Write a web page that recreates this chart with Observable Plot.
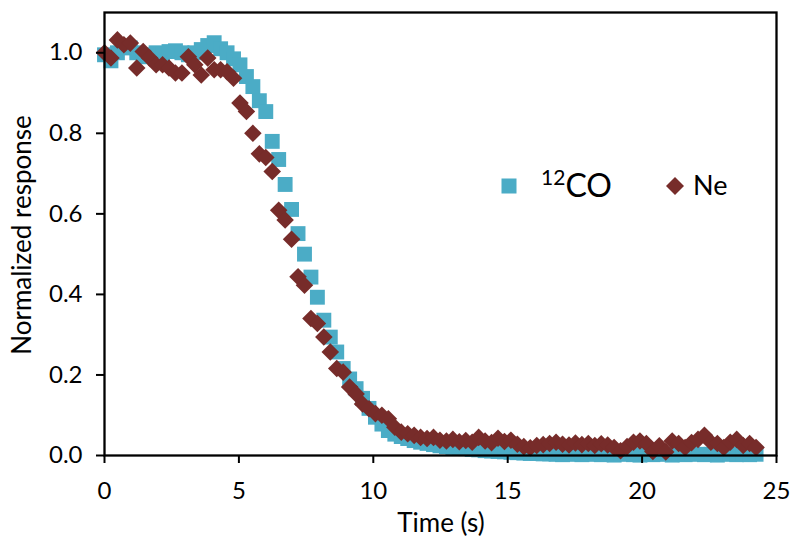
<!DOCTYPE html>
<html><head><meta charset="utf-8">
<script src="https://cdn.jsdelivr.net/npm/d3@7"></script>
<script src="https://cdn.jsdelivr.net/npm/@observablehq/plot@0.6"></script>
<style>
body{margin:0;background:#fff;}
#wrap{position:relative;width:790px;height:538px;}
</style></head><body><div id="wrap"></div>
<script>
const time = [0,0.24,0.48,0.72,0.96,1.2,1.44,1.68,1.92,2.16,
2.4,2.64,2.88,3.12,3.36,3.6,3.84,4.08,4.32,4.56,
4.8,5.04,5.28,5.52,5.76,6,6.24,6.48,6.72,6.96,
7.2,7.44,7.68,7.92,8.16,8.4,8.64,8.88,9.12,9.36,
9.6,9.84,10.08,10.32,10.56,10.8,11.04,11.28,11.52,11.76,
12,12.24,12.48,12.72,12.96,13.2,13.44,13.68,13.92,14.16,
14.4,14.64,14.88,15.12,15.36,15.6,15.84,16.08,16.32,16.56,
16.8,17.04,17.28,17.52,17.76,18,18.24,18.48,18.72,18.96,
19.2,19.44,19.68,19.92,20.16,20.4,20.64,20.88,21.12,21.36,
21.6,21.84,22.08,22.32,22.56,22.8,23.04,23.28,23.52,23.76,
24,24.24];
const co = [0.995,0.98,1.0,1.015,1.012,1.0,0.99,0.995,1.0,0.998,
1.003,1.005,1.0,0.995,1.0,1.008,1.018,1.025,1.01,1.0,
0.985,0.97,0.941,0.916,0.881,0.854,0.78,0.735,0.673,0.611,
0.551,0.5,0.443,0.393,0.336,0.294,0.257,0.216,0.19,0.166,
0.142,0.117,0.095,0.078,0.062,0.053,0.047,0.042,0.037,0.033,
0.03,0.027,0.024,0.022,0.02,0.018,0.017,0.015,0.014,0.012,
0.011,0.01,0.009,0.008,0.007,0.006,0.005,0.005,0.004,0.004,
0.003,0.002,0.004,0.003,0.002,0.003,0.004,0.002,0.003,0.001,
0.003,0.004,0.002,0.001,0.003,0.002,0.004,0.003,0.001,0.003,
0.002,0.004,0.003,0.002,0.003,0.001,0.004,0.003,0.002,0.003,
0.002,0.003];
const ne = [1.0,0.987,1.032,1.02,1.024,0.962,1.003,0.987,0.97,0.97,
0.962,0.95,0.95,0.99,0.97,0.945,0.987,0.958,0.958,0.953,
0.937,0.875,0.854,0.8,0.749,0.74,0.705,0.609,0.585,0.537,
0.444,0.423,0.34,0.328,0.294,0.257,0.216,0.207,0.17,0.153,
0.128,0.116,0.104,0.1,0.091,0.07,0.058,0.054,0.05,0.045,
0.042,0.045,0.038,0.036,0.04,0.034,0.037,0.033,0.045,0.036,
0.032,0.043,0.035,0.038,0.028,0.022,0.019,0.025,0.027,0.03,
0.033,0.028,0.026,0.031,0.027,0.03,0.025,0.029,0.026,0.02,
0.012,0.022,0.033,0.036,0.03,0.01,0.024,0.009,0.036,0.03,
0.02,0.032,0.04,0.05,0.033,0.03,0.02,0.033,0.04,0.025,
0.03,0.02];
const xTicks = [0,5,10,15,20,25];
const yTicks = [0,0.2,0.4,0.6,0.8,1.0];
const seriesNames = ["CO","Ne"];
const colors = ["#4BACC6","#772C2A"];
const xLabel = "Time (s)";
const yLabel = "Normalized response";

const coData = time.slice(0, co.length).map((t,i)=>({t, v: co[i]}));
const neData = time.slice(0, ne.length).map((t,i)=>({t, v: ne[i]}));

const FONT = "Lato, 'Open Sans', sans-serif";

const chart = Plot.plot({
  width: 790, height: 538,
  marginLeft: 104, marginRight: 14, marginTop: 12, marginBottom: 83,
  style: {fontFamily: FONT, fontSize: "24px", color: "#000", background: "#fff", overflow: "visible"},
  x: {domain: [0, 25]},
  y: {domain: [0, 1.1]},
  marks: [
    Plot.dot(coData, {x: "t", y: "v", symbol: "square", r: 8.4, fill: colors[0], stroke: "none"}),
    Plot.dot(neData, {x: "t", y: "v", symbol: "diamond2", r: 7.9, fill: colors[1], stroke: "none"}),
    Plot.frame({stroke: "#000", strokeWidth: 2.3}),
    Plot.axisX({ticks: xTicks, tickSize: 8, tickPadding: 18, tickFormat: d => String(d), label: null, stroke: "#000", strokeWidth: 2, fontSize: 24}),
    Plot.axisY({ticks: yTicks, tickSize: 8, tickPadding: 14, tickFormat: d => d.toFixed(1), label: null, stroke: "#000", strokeWidth: 2, fontSize: 24})
  ]
});
document.getElementById("wrap").appendChild(chart);

const svg = d3.select(chart);
// Axis titles
svg.append("text").attr("x", 441).attr("y", 523).attr("dy", "0.35em")
  .attr("text-anchor", "middle").attr("font-family", FONT).attr("font-size", 26).attr("fill", "#000").text(xLabel);
svg.append("text").attr("transform", "translate(22,235) rotate(-90)").attr("dy", "0.35em")
  .attr("text-anchor", "middle").attr("font-family", FONT).attr("font-size", 26).attr("fill", "#000").text(yLabel);

// Legend
const lg = svg.append("g").attr("font-family", FONT).attr("fill", "#000").attr("text-anchor", "start");
const sq = 15;
lg.append("rect").attr("x", 509 - sq/2).attr("y", 186 - sq/2).attr("width", sq).attr("height", sq).attr("fill", colors[0]);
const t1 = lg.append("text").attr("x", 541).attr("y", 197);
t1.append("tspan").attr("font-size", 21).attr("dy", -12).text("12");
t1.append("tspan").attr("font-size", 32).attr("dy", 12).text(seriesNames[0]);
const d = 9;
lg.append("path").attr("d", `M675,${186-d}L${675+d},186L675,${186+d}L${675-d},186Z`).attr("fill", colors[1]);
lg.append("text").attr("x", 693).attr("y", 195).attr("font-size", 27).text(seriesNames[1]);
</script></body></html>
